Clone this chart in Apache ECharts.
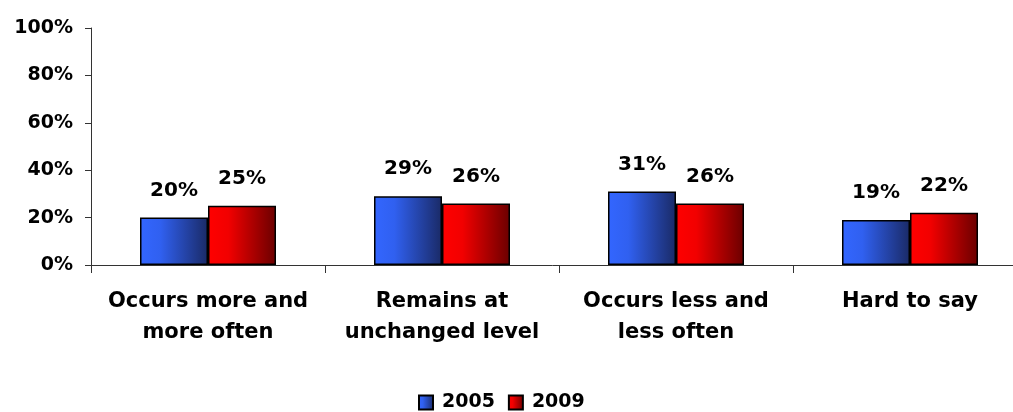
<!DOCTYPE html>
<html>
<head>
<meta charset="utf-8">
<script src="https://cdn.jsdelivr.net/npm/echarts@6/dist/echarts.min.js"></script>
<style>
  html, body { margin: 0; padding: 0; background: #fff; }
  #chart { width: 1013px; height: 412px; }
</style>
</head>
<body>
<div id="chart"></div>
<script>
// categories and values
const categories = ['Occurs more and\nmore often', 'Remains at\nunchanged level', 'Occurs less and\nless often', 'Hard to say'];
const values2005 = [20, 29, 31, 19];
const values2009 = [25, 26, 26, 22];
const yTicks = [0, 20, 40, 60, 80, 100];

const font = 'DejaVu Sans';

// horizontal gradients like the old office bars
function grad(light, mid, dark) {
  return new echarts.graphic.LinearGradient(0, 0, 1, 0, [
    { offset: 0, color: light },
    { offset: 0.3, color: mid },
    { offset: 1, color: dark }
  ]);
}

var myChart = echarts.init(document.getElementById('chart'));

var option = {
  animation: false,
  textStyle: { fontFamily: font, fontWeight: 'bold', color: '#000' },
  // plot runs past the right edge in the original, so let it overflow
  grid: { left: 91, top: 28, width: 936, height: 237, outerBoundsMode: 'none', containLabel: false },
  legend: {
    data: ['2005', '2009'],
    top: 388,
    left: 413,
    itemWidth: 14,
    itemHeight: 14,
    itemGap: 13,
    icon: 'rect',
    textStyle: { fontFamily: font, fontWeight: 'bold', fontSize: 19, color: '#000', padding: [0, 0, 0, 4] }
  },
  xAxis: {
    type: 'category',
    data: categories,
    axisLine: { lineStyle: { color: '#333', width: 1 } },
    axisTick: { show: true, length: 8, lineStyle: { color: '#333' } },
    axisLabel: {
      interval: 0,
      margin: 21,
      fontFamily: font,
      fontWeight: 'bold',
      fontSize: 21,
      lineHeight: 31,
      color: '#000'
    }
  },
  yAxis: {
    type: 'value',
    min: yTicks[0],
    max: yTicks[yTicks.length - 1],
    interval: 20,
    splitLine: { show: false },
    axisLine: { show: true, lineStyle: { color: '#333', width: 1 } },
    axisTick: { show: true, length: 6, lineStyle: { color: '#333' } },
    axisLabel: {
      margin: 18,
      formatter: '{value}%',
      fontFamily: font,
      fontWeight: 'bold',
      fontSize: 19,
      color: '#000'
    }
  },
  series: [
    {
      name: '2005',
      type: 'bar',
      data: values2005,
      barWidth: 68,
      barGap: '0%',
      itemStyle: {
        color: grad('#3366ff', '#3060f0', '#1a2a66'),
        borderColor: '#000',
        borderWidth: 1.5
      },
      label: {
        show: true,
        position: 'top',
        distance: 17,
        formatter: '{c}%',
        fontFamily: font,
        fontWeight: 'bold',
        fontSize: 20,
        color: '#000'
      }
    },
    {
      name: '2009',
      type: 'bar',
      data: values2009,
      barWidth: 68,
      itemStyle: {
        color: grad('#ff0000', '#f20000', '#6a0000'),
        borderColor: '#000',
        borderWidth: 1.5
      },
      label: {
        show: true,
        position: 'top',
        distance: 17,
        formatter: '{c}%',
        fontFamily: font,
        fontWeight: 'bold',
        fontSize: 20,
        color: '#000'
      }
    }
  ]
};
myChart.setOption(option);
</script>
</body>
</html>
